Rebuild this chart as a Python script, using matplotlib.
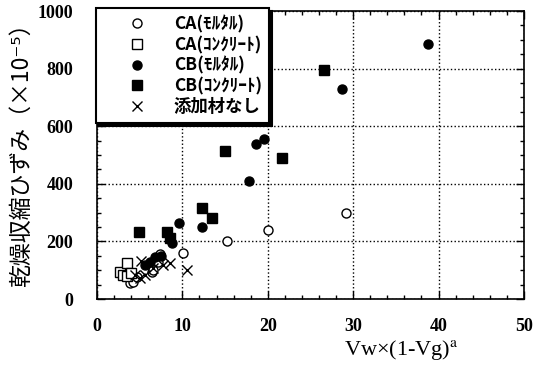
import numpy as np
import matplotlib
matplotlib.use('Agg')
import matplotlib.pyplot as plt
from matplotlib.ticker import MultipleLocator

plt.rcParams['font.family'] = ['Liberation Serif', 'Noto Sans CJK JP']
plt.rcParams['mathtext.fontset'] = 'stix'

# CA (mortar) - open circles
ca_m_x = [3.9, 4.2, 4.7, 3.9, 6.4, 6.6, 7.1, 7.4, 10.1, 15.2, 20.0, 29.2]
ca_m_y = [55, 59, 77, 83, 94, 100, 128, 156, 160, 201, 240, 300]
# CA (concrete) - open squares
ca_c_x = [2.7, 3.0, 3.5, 3.5, 4.0]
ca_c_y = [94, 83, 80, 125, 90]
# CB (mortar) - filled circles
cb_m_x = [5.6, 6.2, 6.8, 7.5, 8.8, 9.6, 12.3, 17.8, 18.6, 19.6, 28.7, 38.8]
cb_m_y = [118, 129, 146, 150, 194, 264, 250, 410, 538, 555, 729, 885]
# CB (concrete) - filled squares
cb_c_x = [4.9, 8.2, 8.6, 12.3, 13.5, 15.0, 21.7, 26.6]
cb_c_y = [232, 233, 212, 316, 281, 514, 490, 795]
# no additive - crosses
no_x = [4.5, 5.0, 5.2, 5.6, 6.6, 7.7, 8.5, 10.6]
no_y = [85, 73, 132, 83, 108, 118, 125, 100]

fig = plt.figure(figsize=(5.48, 3.68), dpi=100)
ax = fig.add_axes([0.177, 0.1875, 0.779, 0.7825])

ms = 6.5
ax.plot(ca_m_x, ca_m_y, 'o', mfc='white', mec='black', mew=1.0, ms=ms, ls='none', label='CA(ﾓﾙﾀﾙ)')
ax.plot(ca_c_x, ca_c_y, 's', mfc='white', mec='black', mew=1.0, ms=ms, ls='none', label='CA(ｺﾝｸﾘｰﾄ)')
ax.plot(cb_m_x, cb_m_y, 'o', color='black', ms=ms, ls='none', label='CB(ﾓﾙﾀﾙ)')
ax.plot(cb_c_x, cb_c_y, 's', color='black', ms=ms, ls='none', label='CB(ｺﾝｸﾘｰﾄ)')
ax.plot(no_x, no_y, 'x', color='black', mew=1.0, ms=7, ls='none', label='添加材なし')

ax.set_xlim(0, 50)
ax.set_ylim(0, 1000)
ax.xaxis.set_major_locator(MultipleLocator(10))
ax.xaxis.set_minor_locator(MultipleLocator(2))
ax.yaxis.set_major_locator(MultipleLocator(200))
ax.yaxis.set_minor_locator(MultipleLocator(50))
ax.tick_params(which='both', direction='in', top=True, right=True, width=1.0)
ax.tick_params(which='major', length=6)
ax.tick_params(axis='x', which='major', pad=14)
ax.tick_params(axis='y', which='major', pad=17)
ax.tick_params(which='minor', length=3)
for lab in ax.get_xticklabels() + ax.get_yticklabels():
    lab.set_fontweight('bold')
    lab.set_fontsize(13)
for s in ax.spines.values():
    s.set_linewidth(1.2)
ax.grid(True, which='major', ls=':', color='black', lw=1.0)

ax.set_xlabel('Vw×(1-Vg)$^{\\mathrm{a}}$', fontsize=16, family=['Liberation Serif'])
ax.xaxis.set_label_coords(0.712, -0.135)
ax.set_ylabel('乾燥収縮ひずみ（×10⁻⁵）', fontsize=16.5, family=['Noto Sans CJK JP', 'DejaVu Sans'])
ax.yaxis.set_label_coords(-0.15, 0.52)

leg = ax.legend(loc='upper left', bbox_to_anchor=(-0.003, 1.01),
                prop={'family': ['Noto Sans CJK JP', 'DejaVu Sans'], 'size': 12.5, 'weight': 'bold'},
                frameon=True, fancybox=False, shadow={'color': 'black', 'alpha': 1.0},
                handletextpad=0.1, borderpad=0.4, labelspacing=0.15, borderaxespad=0.0,
                handlelength=4.0)
leg.get_frame().set_edgecolor('black')
leg.get_frame().set_linewidth(1.5)
leg.get_frame().set_alpha(1.0)

fig.savefig('out.png', dpi=100)
